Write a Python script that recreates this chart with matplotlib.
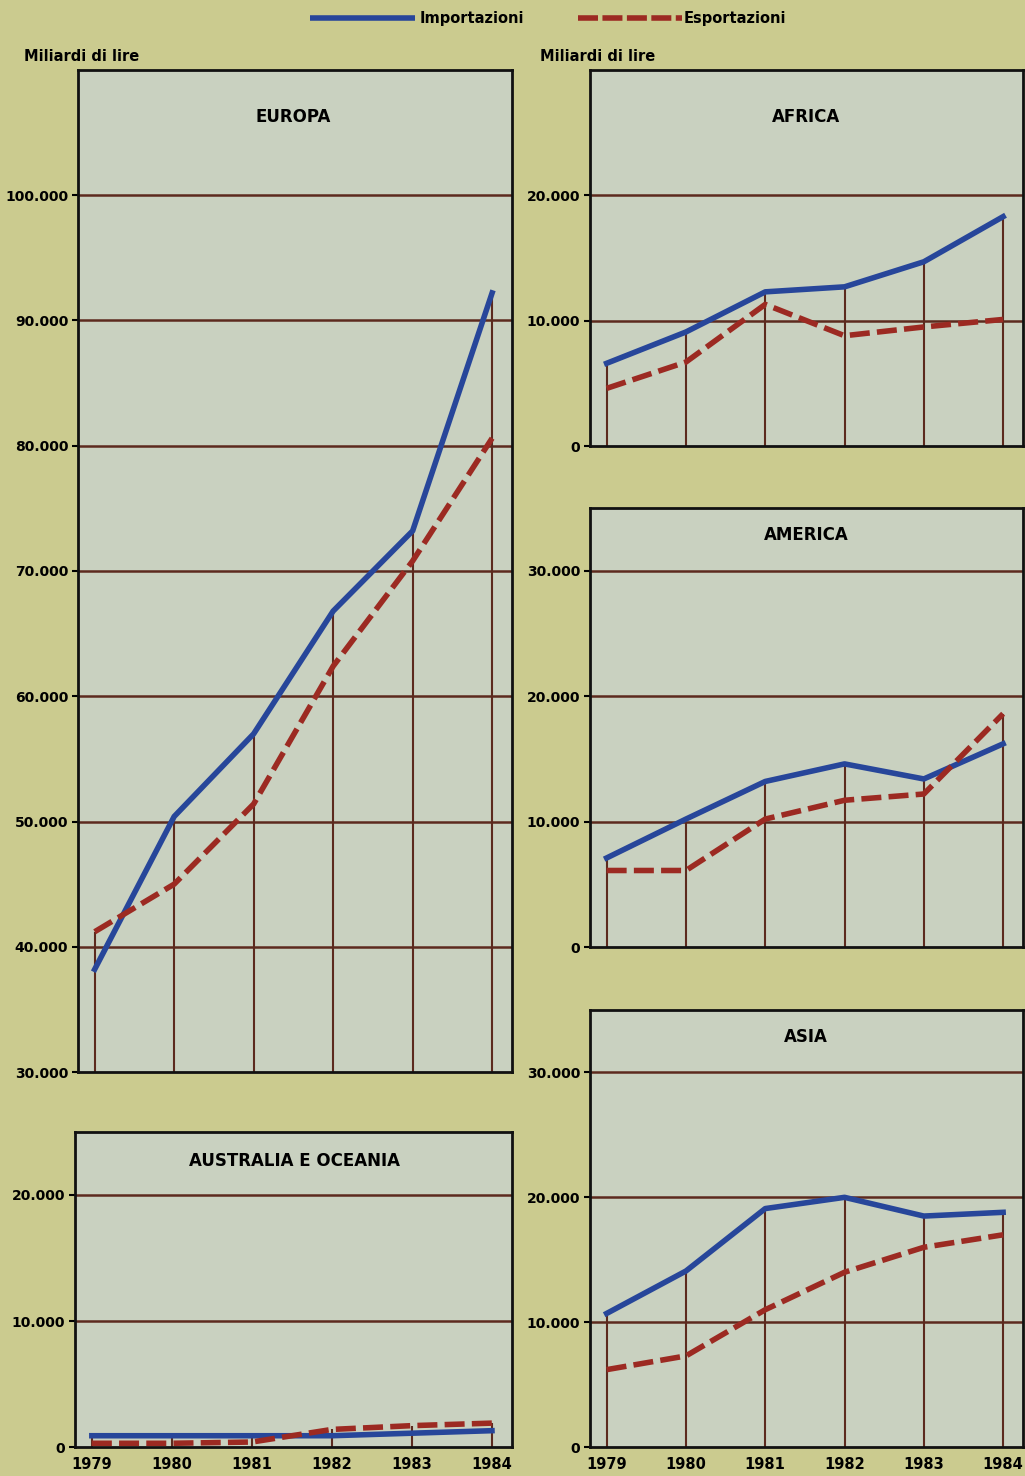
import matplotlib.pyplot as plt
import matplotlib.ticker as mticker

years = [1979, 1980, 1981, 1982, 1983, 1984]

europa_imp = [38200, 50400, 57000, 66800, 73200, 92200]
europa_exp = [41200, 45000, 51400, 62400, 70800, 80600]
africa_imp = [6600, 9100, 12300, 12700, 14700, 18300]
africa_exp = [4600, 6700, 11300, 8800, 9500, 10100]
america_imp = [7100, 10200, 13200, 14600, 13400, 16200]
america_exp = [6100, 6100, 10200, 11700, 12200, 18600]
asia_imp = [10700, 14100, 19100, 20000, 18500, 18800]
asia_exp = [6200, 7300, 11000, 14000, 16000, 17000]
oceania_imp = [900, 900, 900, 900, 1100, 1300]
oceania_exp = [300, 300, 400, 1400, 1700, 1900]

BG = "#cbcb8f"
PANEL = "#c9d1c0"
BLUE = "#27469a"
RED = "#9c2a22"
GRID = "#5c2a1e"

plt.rcParams["font.family"] = "DejaVu Sans"
plt.rcParams["font.weight"] = "bold"

fig = plt.figure(figsize=(10.25, 14.76), dpi=100)
fig.patch.set_facecolor(BG)


def fmt(v, pos):
    return "0" if v == 0 else "{:,}".format(int(v)).replace(",", ".")


def panel(rect, imp, exp, ylim, ticks, xlabels=False):
    ax = fig.add_axes(rect)
    ax.set_facecolor(PANEL)
    ax.set_xlim(1978.79, 1984.25)
    ax.set_ylim(*ylim)
    for t in ticks[1:]:
        ax.axhline(t, color=GRID, lw=1.8, zorder=1)
    # drop lines from the bottom up to the higher series
    tops = [max(a, b) for a, b in zip(imp, exp)]
    ax.vlines(years, ylim[0], tops, color=GRID, lw=1.5, zorder=1)
    ax.plot(years, imp, color=BLUE, lw=4, zorder=3)
    ax.plot(years, exp, color=RED, lw=4, zorder=4, dashes=(3.6, 1.3))
    ax.set_yticks(ticks)
    ax.yaxis.set_major_formatter(mticker.FuncFormatter(fmt))
    ax.tick_params(axis="y", length=4, width=1.5, labelsize=10, pad=3)
    if xlabels:
        ax.set_xticks(years)
        ax.set_xticklabels([str(y) for y in years])
        ax.tick_params(axis="x", length=0, labelsize=10.5, pad=7)
    else:
        ax.set_xticks([])
    for s in ax.spines.values():
        s.set_linewidth(2)
        s.set_color("#111111")
    return ax


panel([0.0761, 0.2737, 0.4234, 0.6789], europa_imp, europa_exp, (30000, 110000),
      list(range(30000, 100001, 10000)))
fig.text(0.286, 0.9207, "EUROPA", ha="center", va="center", fontsize=12)

panel([0.5756, 0.6978, 0.4224, 0.2548], africa_imp, africa_exp, (0, 30000),
      [0, 10000, 20000])
fig.text(0.7863, 0.9207, "AFRICA", ha="center", va="center", fontsize=12)

panel([0.5756, 0.3584, 0.4224, 0.2974], america_imp, america_exp, (0, 35000),
      [0, 10000, 20000, 30000])
fig.text(0.7863, 0.6375, "AMERICA", ha="center", va="center", fontsize=12)

panel([0.5756, 0.0196, 0.4224, 0.2961], asia_imp, asia_exp, (0, 35000),
      [0, 10000, 20000, 30000], xlabels=True)
fig.text(0.7863, 0.2974, "ASIA", ha="center", va="center", fontsize=12)

panel([0.0732, 0.0196, 0.4263, 0.2135], oceania_imp, oceania_exp, (0, 25000),
      [0, 10000, 20000], xlabels=True)
fig.text(0.2878, 0.2134, "AUSTRALIA E OCEANIA", ha="center", va="center", fontsize=12)

fig.text(0.023, 0.9614, "Miliardi di lire", ha="left", va="center", fontsize=10.5)
fig.text(0.527, 0.9614, "Miliardi di lire", ha="left", va="center", fontsize=10.5)

# legend at top
lg = fig.add_axes([0, 0.975, 1, 0.025])
lg.set_xlim(0, 1025)
lg.set_ylim(0, 1)
lg.axis("off")
lg.plot([310, 415], [0.5, 0.5], color=BLUE, lw=4, solid_capstyle="butt")
lg.text(420, 0.5, "Importazioni", ha="left", va="center", fontsize=10.5)
lg.plot([578, 682], [0.5, 0.5], color=RED, lw=4, dashes=(3.6, 0.8))
lg.text(684, 0.5, "Esportazioni", ha="left", va="center", fontsize=10.5)

fig.savefig("out.png", dpi=100, facecolor=BG)
